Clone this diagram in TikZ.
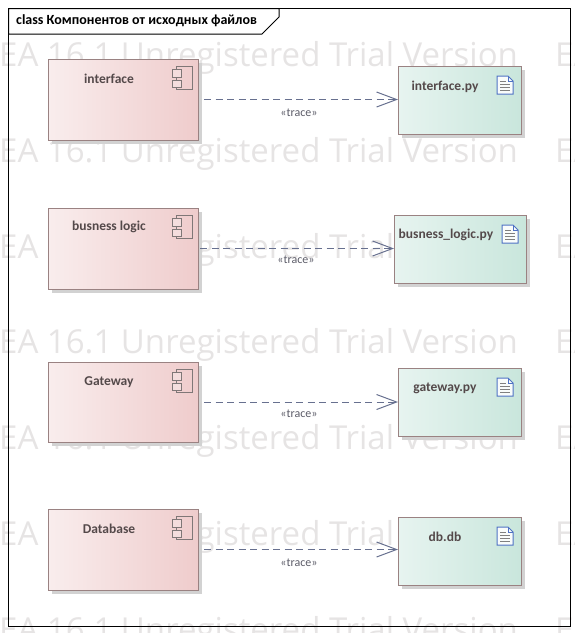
\documentclass[tikz,border=0pt]{standalone}
\usepackage{fontspec}
\setmainfont{Carlito}
\newfontfamily\wmfont{Open Sans}
\usetikzlibrary{arrows.meta,shadows}
\definecolor{wmgray}{HTML}{E6E4E4}
\definecolor{edgecol}{HTML}{9A8282}
\definecolor{shadowcol}{HTML}{D2D2D2}
\definecolor{txtcol}{HTML}{54494A}
\definecolor{linecol}{HTML}{67708F}
\definecolor{tracecol}{HTML}{5C5C68}
\definecolor{iconblue}{HTML}{4F72C4}
\tikzset{
  wmark/.style={font=\wmfont\fontsize{33}{33}\selectfont,text=wmgray,inner sep=0pt,anchor=base west},
  basebox/.style={draw=edgecol,line width=1pt,inner sep=0pt,outer sep=0pt,
    drop shadow={shadow xshift=3.5pt,shadow yshift=-3.5pt,fill=shadowcol,opacity=1}},
  compbox/.style={basebox,left color=black!0!white!100!red!0,left color=compL,right color=compR},
  filebox/.style={basebox,left color=fileL,right color=fileR},
  boxtext/.style={font=\bfseries\fontsize{13.5}{14}\selectfont,text=txtcol,inner sep=0pt},
  tracetext/.style={font=\fontsize{12}{13}\selectfont,text=tracecol,inner sep=0pt},
  tracelink/.style={draw=linecol,line width=1pt,dash pattern=on 7pt off 4.5pt,
    -{Straight Barb[length=20pt,width=15pt,line width=1pt]}},
  compicon/.pic={
    \draw[txtcol!75,line width=0.9pt] (-22,7) rectangle (-6,30);
    \draw[txtcol!75,line width=0.9pt,fill=compM] (-26,10) rectangle (-17,18);
    \draw[txtcol!75,line width=0.9pt,fill=compM] (-26,21) rectangle (-17,28);
  },
  fileicon/.pic={
    \draw[iconblue,line width=1pt,fill=white!88!fileR] (-24,10) -- (-13,10) -- (-8,15) -- (-8,28) -- (-24,28) -- cycle;
    \draw[iconblue,line width=.7pt] (-13,10) -- (-13,15) -- (-8,15);
    \draw[gray,line width=.8pt] (-21,15) -- (-15,15) (-21,18.5) -- (-11,18.5) (-21,21.5) -- (-11,21.5) (-21,24.5) -- (-11,24.5);
  }
}
\definecolor{compL}{HTML}{F9EDED}
\definecolor{compM}{HTML}{F4DDDD}
\definecolor{compR}{HTML}{EFCCCC}
\definecolor{fileL}{HTML}{E7F4F0}
\definecolor{fileR}{HTML}{C9E6DC}
\begin{document}
\begin{tikzpicture}[x=1pt,y=-1pt]
\useasboundingbox (0,0) rectangle (575,633);
\begin{scope}
\clip (0,0) rectangle (575,633);
\foreach \n/\y in {1/66,2/162,3/258,4/353,5/449,6/545,7/641}{
  \node[wmark] (wa\n) at (-1,\y) {EA 16.1 Unregistered Trial Version};
  \node[wmark] (wb\n) at (555,\y) {EA};
}
\end{scope}
% frame
\draw[black,line width=1pt] (8.5,8.5) rectangle (570.5,626);
\draw[black,line width=1pt,fill=white] (8.5,8.5) -- (279,8.5) -- (279,17) -- (262,34) -- (8.5,34) -- cycle;
\node[font=\bfseries\fontsize{14}{15}\selectfont,text=black,inner sep=0pt,anchor=west] (title) at (16,21) {class Компонентов от исходных файлов};
% components
\node[compbox,minimum width=150pt,minimum height=81pt] (c1) at (123,99.5) {};
\node[compbox,minimum width=150pt,minimum height=81pt] (c2) at (123,248.5) {};
\node[compbox,minimum width=150pt,minimum height=80pt] (c3) at (123,402) {};
\node[compbox,minimum width=150pt,minimum height=81pt] (c4) at (123,549.5) {};
\foreach \n in {c1,c2,c3,c4}{ \pic at (\n.north east) {compicon}; }
\node[boxtext] (lc1) at (109,79) {interface};
\node[boxtext] (lc2) at (109,227) {busness logic};
\node[boxtext] (lc3) at (109,382) {Gateway};
\node[boxtext] (lc4) at (109,529) {Database};
% files
\node[filebox,minimum width=123pt,minimum height=68pt] (f1) at (459.5,100) {};
\node[filebox,minimum width=132pt,minimum height=68pt] (f2) at (460,249) {};
\node[filebox,minimum width=123pt,minimum height=68pt] (f3) at (459.5,402) {};
\node[filebox,minimum width=123pt,minimum height=68pt] (f4) at (459.5,551) {};
\foreach \n in {f1,f2,f3,f4}{ \pic at (\n.north east) {fileicon}; }
\node[boxtext] (lf1) at (445,87) {interface.py};
\node[boxtext] (lf2) at (446,235) {busness\_logic.py};
\node[boxtext] (lf3) at (445,388) {gateway.py};
\node[boxtext] (lf4) at (445,537) {db.db};
% links
\draw[tracelink,shorten <=6pt] (c1.east) -- (c1.east -| f1.west);
\draw[tracelink,shorten <=2pt] (c2.east) -- (c2.east -| f2.west);
\draw[tracelink,shorten <=6pt] (c3.east) -- (c3.east -| f3.west);
\draw[tracelink,shorten <=6pt] (c4.east) -- (c4.east -| f4.west);
\node[tracetext] (t1) at (299,113) {«trace»};
\node[tracetext] (t2) at (296,260) {«trace»};
\node[tracetext] (t3) at (299,414) {«trace»};
\node[tracetext] (t4) at (299,563) {«trace»};
\end{tikzpicture}
\end{document}
